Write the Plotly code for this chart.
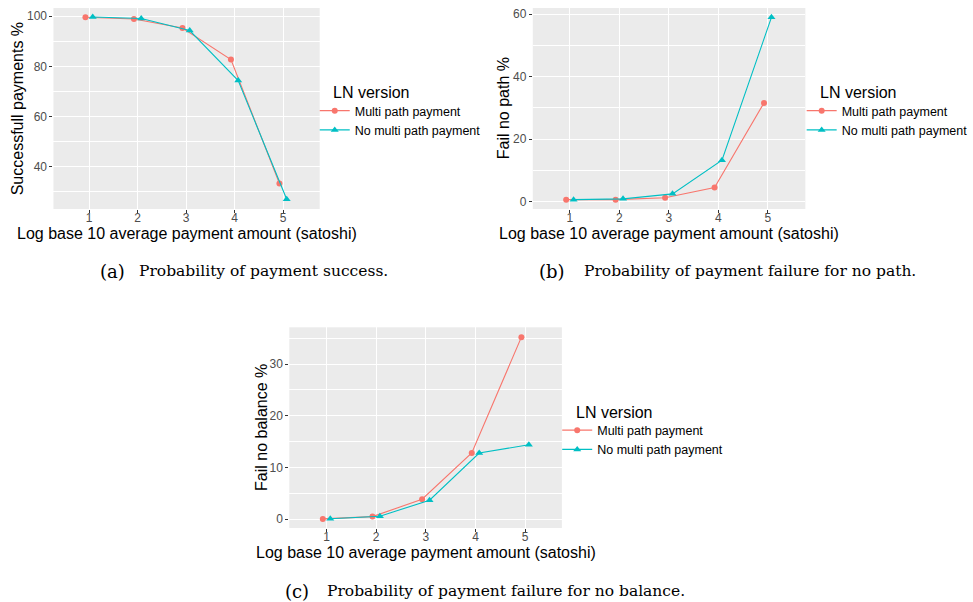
import plotly.graph_objects as go
import numpy as np

# ---------------- data ----------------
amount_log10 = [1, 2, 3, 4, 5]
series_names = ["Multi path payment", "No multi path payment"]

success_multi = [99.6, 98.9, 95.3, 82.7, 33.2]
success_nomulti = [99.7, 99.1, 94.3, 74.3, 26.9]

nopath_multi = [0.6, 0.6, 1.2, 4.5, 31.6]
nopath_nomulti = [0.6, 0.85, 2.45, 13.25, 59.0]

nobal_multi = [0.06, 0.5, 3.86, 12.8, 35.2]
nobal_nomulti = [0.1, 0.58, 3.67, 12.8, 14.4]

y_titles = ["Successfull payments %", "Fail no path %", "Fail no balance %"]
x_title = "Log base 10 average payment amount (satoshi)"
legend_title = "LN version"
captions = [("(a)", "Probability of payment success."),
            ("(b)", "Probability of payment failure for no path."),
            ("(c)", "Probability of payment failure for no balance.")]

# ---------------- style ----------------
W, H = 973, 602
COLORS = ["#F8766D", "#00BFC4"]
SYMBOLS = ["circle", "triangle-up"]
DODGE = 0.075
SANS = "Liberation Sans, Arial, sans-serif"
SERIF = "DejaVu Serif, serif"


def px_x(p):
    return p / W


def px_y(p):
    return 1 - p / H


fig = go.Figure()

panels = [
    dict(multi=success_multi, nomulti=success_nomulti, ax="", legend="legend"),
    dict(multi=nopath_multi, nomulti=nopath_nomulti, ax="2", legend="legend2"),
    dict(multi=nobal_multi, nomulti=nobal_nomulti, ax="3", legend="legend3"),
]

x = np.array(amount_log10, dtype=float)
for p in panels:
    for i, (vals, off) in enumerate([(p["multi"], -DODGE), (p["nomulti"], DODGE)]):
        fig.add_trace(go.Scatter(
            x=x + off, y=vals, mode="lines+markers", name=series_names[i],
            line=dict(color=COLORS[i], width=1.1),
            marker=dict(color=COLORS[i], symbol=SYMBOLS[i], size=6 if i == 0 else 7),
            xaxis="x" + p["ax"], yaxis="y" + p["ax"], legend=p["legend"],
        ))

# panel geometry in pixels (left, right, top, bottom)
geo = [(54, 323, 8, 209), (538.3, 813.7, 8, 209), (292.3, 567.7, 327.3, 528)]
yranges = [[23, 103.3], [-2.4, 62], [-1.7, 37.1]]
ydticks = [20, 20, 10]
xranges = [[0.265, 5.755], [0.25, 5.76], [0.25, 5.74]]
ytitle_x = [18, 509, 264]

axis_common = dict(
    showgrid=True, gridcolor="white", gridwidth=1.1, zeroline=False,
    ticks="outside", ticklen=3, tickwidth=1, tickcolor="#333333",
    tickfont=dict(family=SANS, size=12, color="#4D4D4D"),
    showline=False,
)

layout = dict(
    width=W, height=H, autosize=False,
    margin=dict(l=0, r=0, t=0, b=0),
    paper_bgcolor="white", plot_bgcolor="#EBEBEB",
    font=dict(family=SANS, color="black"),
    showlegend=True,
)

for k, (l, r, t, b) in enumerate(geo):
    suf = "" if k == 0 else str(k + 1)
    layout["xaxis" + suf] = dict(
        axis_common, domain=[px_x(l), px_x(r)], range=xranges[k],
        tickmode="array", tickvals=amount_log10,
        ticktext=[str(v) for v in amount_log10],
        ticklabelstandoff=-5,
        anchor="y" + suf,
    )
    layout["yaxis" + suf] = dict(
        axis_common, domain=[px_y(b), px_y(t)], range=yranges[k],
        tick0=0, dtick=ydticks[k],
        minor=dict(dtick=ydticks[k] / 2, showgrid=True, gridcolor="white", gridwidth=0.55, ticks=""),
        anchor="x" + suf,
    )

# axis titles
for k, (l, r, t, b) in enumerate(geo):
    fig.add_annotation(text=x_title, x=px_x((l + r) / 2), y=px_y(b + 24.5), xref="paper", yref="paper",
                       xanchor="center", yanchor="middle", showarrow=False, borderpad=0,
                       font=dict(family=SANS, size=16, color="black"))
    fig.add_annotation(text=y_titles[k], x=px_x(ytitle_x[k]), y=px_y((t + b) / 2), xref="paper", yref="paper",
                       xanchor="center", yanchor="middle", showarrow=False, textangle=-90,
                       font=dict(family=SANS, size=16, color="black"))

# legends
leg_pos = [(318, 120.5), (810, 120.5), (563, 440)]
for k, (lx, ly) in enumerate(leg_pos):
    name = "legend" if k == 0 else "legend" + str(k + 1)
    layout[name] = dict(
        x=px_x(lx), y=px_y(ly), xanchor="left", yanchor="middle",
        font=dict(family=SANS, size=12.5, color="black"),
        bgcolor="rgba(0,0,0,0)", itemwidth=30, tracegroupgap=0,
    )

fig.update_layout(**layout)

# legend titles
for (tx, ty) in [(334, 93), (826, 93), (580, 412)]:
    fig.add_annotation(text=legend_title, x=px_x(tx), y=px_y(ty), xref="paper", yref="paper",
                       xanchor="left", yanchor="middle", showarrow=False,
                       font=dict(family=SANS, size=16, color="black"))

# captions
cap_pos = [((114, 271), (266, 271)), ((558, 271), (758, 271)), ((300.5, 591), (511, 591))]
for (lab, txt), ((lx, ly), (cx, cy)) in zip(captions, cap_pos):
    fig.add_annotation(text=lab, x=px_x(lx), y=px_y(ly), xref="paper", yref="paper",
                       xanchor="center", yanchor="middle", showarrow=False,
                       font=dict(family=SERIF, size=18, color="black"))
    fig.add_annotation(text=txt, x=px_x(cx), y=px_y(cy), xref="paper", yref="paper",
                       xanchor="center", yanchor="middle", showarrow=False,
                       font=dict(family=SERIF, size=15.5, color="black"))

fig.write_html("out.html", config={"displayModeBar": False},
               post_script="document.body.style.margin='0';")
